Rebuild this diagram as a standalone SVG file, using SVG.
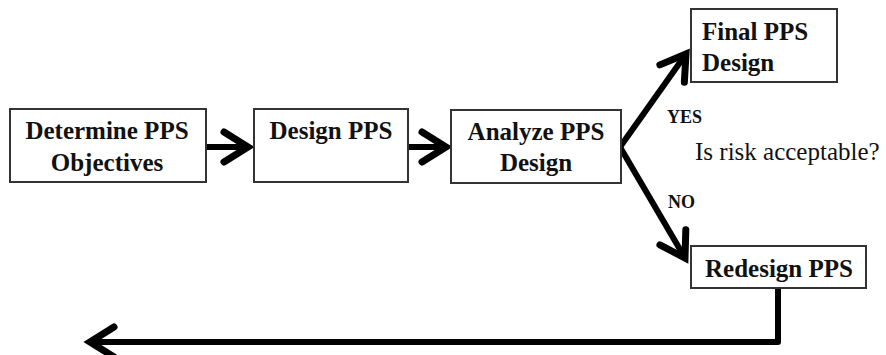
<svg xmlns="http://www.w3.org/2000/svg" width="886" height="355" viewBox="0 0 886 355">
<style>
.box{fill:#fff;stroke:#333;stroke-width:2}
.t{font-family:"Liberation Serif",serif;font-weight:bold;font-size:25px;fill:#111}
.s{font-family:"Liberation Serif",serif;font-weight:bold;font-size:18px;fill:#111}
.q{font-family:"Liberation Serif",serif;font-size:25px;fill:#111}
.c{fill:none;stroke:#000;stroke-width:6;stroke-linejoin:round}
</style>
<defs>
<marker id="ah" markerUnits="userSpaceOnUse" viewBox="-30 -20 34 40" refX="0" refY="0" markerWidth="34" markerHeight="40" orient="auto" overflow="visible">
<path d="M-24,-15 L0,0 L-24,15" fill="none" stroke="#000" stroke-width="7" stroke-linecap="round" stroke-linejoin="miter" stroke-miterlimit="4"/>
</marker>
</defs>
<rect width="886" height="355" fill="#fff"/>
<g id="connectors">
<path class="c" d="M206,147 L248,147" marker-end="url(#ah)"/>
<path class="c" d="M408,147 L446,147" marker-end="url(#ah)"/>
<path class="c" d="M620,147 L686,54" marker-end="url(#ah)"/>
<path class="c" d="M620,147 L685,258" marker-end="url(#ah)"/>
<path class="c" d="M778,288 L778,342 L90,342" marker-end="url(#ah)"/>
</g>
<g id="n1"><rect class="box" x="10" y="109" width="196" height="73"/>
<text class="t" x="107" y="139" text-anchor="middle">Determine PPS</text>
<text class="t" x="107" y="171" text-anchor="middle">Objectives</text></g>
<g id="n2"><rect class="box" x="254" y="109" width="154" height="73"/>
<text class="t" x="331" y="139" text-anchor="middle">Design PPS</text></g>
<g id="n3"><rect class="box" x="451" y="110" width="170" height="73"/>
<text class="t" x="536" y="140" text-anchor="middle">Analyze PPS</text>
<text class="t" x="536" y="171" text-anchor="middle">Design</text></g>
<g id="n4"><rect class="box" x="691" y="9" width="146" height="73"/>
<text class="t" x="702" y="40">Final PPS</text>
<text class="t" x="702" y="71">Design</text></g>
<g id="n5"><rect class="box" x="691" y="246" width="175" height="42"/>
<text class="t" x="779" y="277" text-anchor="middle">Redesign PPS</text></g>
<g id="labels">
<text class="s" x="667" y="123">YES</text>
<text class="q" x="695" y="160">Is risk acceptable?</text>
<text class="s" x="668" y="208">NO</text>
</g>
</svg>
